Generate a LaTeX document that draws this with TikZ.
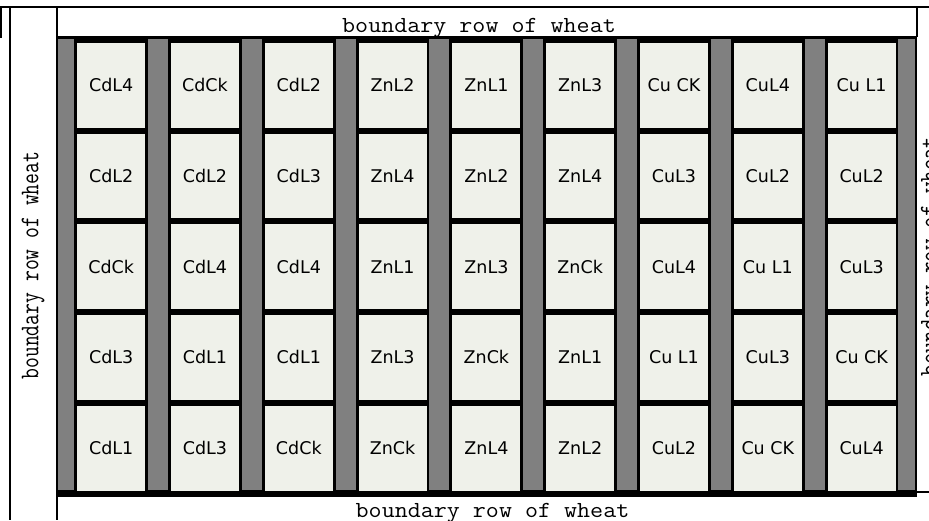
\documentclass[tikz,border=0pt]{standalone}
\usepackage{fontspec}
\usepackage{graphicx}
\newfontfamily\plotfont{DejaVu Sans}
\definecolor{plotfill}{HTML}{EFF1EA}
\definecolor{stripgray}{HTML}{808080}
\tikzset{
  plotcell/.style={fill=plotfill, inner sep=0pt, minimum width=68pt, minimum height=84.7pt,
    font=\plotfont\fontsize{17.5}{20}\selectfont},
  rim/.style={inner sep=0pt, anchor=base, font=\ttfamily\fontsize{23}{26}\selectfont},
  siderim/.style={inner sep=0pt, anchor=base, rotate=90, font=\ttfamily\fontsize{27}{30}\selectfont},
  gridline/.style={line width=2.2pt}
}
\begin{document}
\begin{tikzpicture}[x=1pt,y=-1pt]
  \useasboundingbox (0,0) rectangle (929,520);

  % Field block
  \fill[black] (57,36) rectangle (917,497);
  \foreach \k in {0,...,9}
    \fill[stripgray] ({max(57,54.2+93.8*\k)},39) rectangle ({min(915,74.2+93.8*\k)},490);

  % Plots
  \foreach \labels [count=\r from 0] in {
      {CdL4,CdCk,CdL2,ZnL2,ZnL1,ZnL3,Cu CK,CuL4,Cu L1},
      {CdL2,CdL2,CdL3,ZnL4,ZnL2,ZnL4,CuL3,CuL2,CuL2},
      {CdCk,CdL4,CdL4,ZnL1,ZnL3,ZnCk,CuL4,Cu L1,CuL3},
      {CdL3,CdL1,CdL1,ZnL3,ZnCk,ZnL1,Cu L1,CuL3,Cu CK},
      {CdL1,CdL3,CdCk,ZnCk,ZnL4,ZnL2,CuL2,Cu CK,CuL4}}
    \foreach \lab [count=\c from 0] in \labels
      \node[plotcell] (p-\r-\c) at ({111.2+93.8*\c},{85.35+90.7*\r}) {\lab};

  % Table rules
  \draw[gridline] (0,7) -- (929,7);
  \draw[gridline] (1,7) -- (1,38);
  \draw[gridline] (10,7) -- (10,520);
  \draw[gridline] (57,7) -- (57,520);
  \draw[gridline] (917,7) -- (917,37);
  \draw[gridline] (917,492) -- (929,492);

  % Boundary rows
  \node[rim] (top) at (479,32.3) {\scalebox{1.1}[1]{boundary row of wheat}};
  \node[rim] (bottom) at (492.5,517.7) {\scalebox{1.1}[1]{boundary row of wheat}};
  \node[siderim] (left) at (38.3,265.5) {\scalebox{0.78}[1]{boundary row of wheat}};
  \node[siderim] (right) at (937.7,256.5) {\scalebox{0.82}[1]{boundary row of wheat}};
\end{tikzpicture}
\end{document}
